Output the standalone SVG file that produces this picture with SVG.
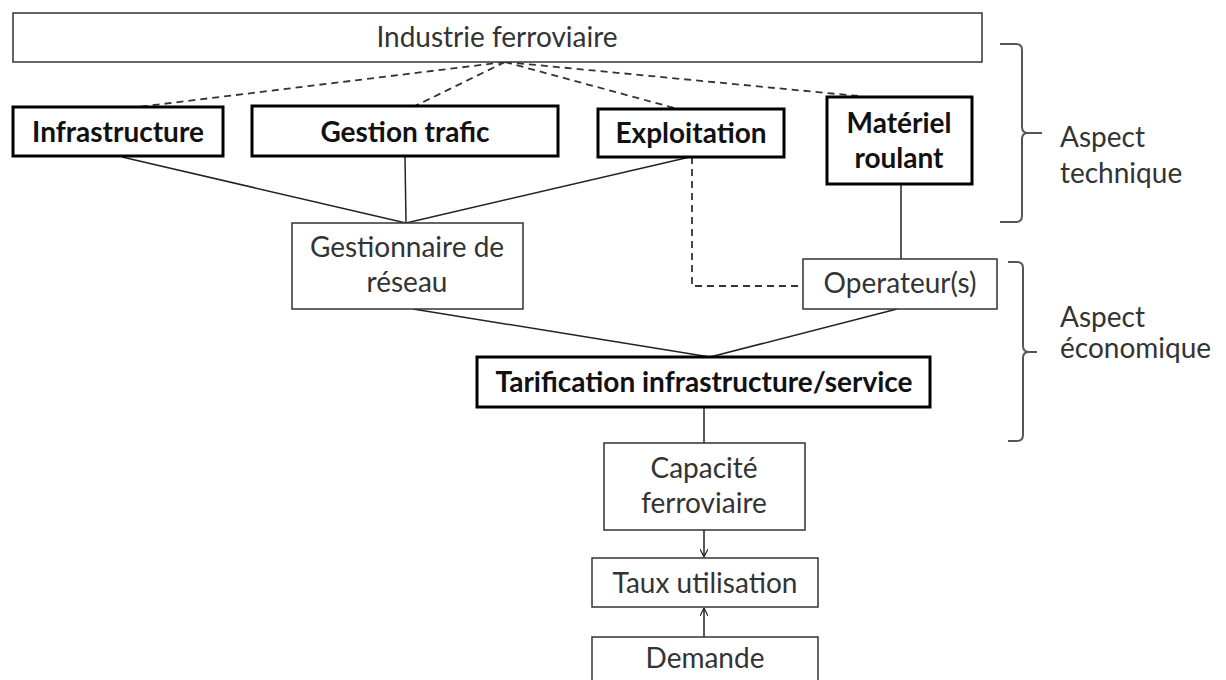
<svg xmlns="http://www.w3.org/2000/svg" width="1226" height="680" viewBox="0 0 1226 680">
<defs>
<style>
.thin{fill:#fff;stroke:#333;stroke-width:1.5}
.thick{fill:#fff;stroke:#000;stroke-width:3}
.t{font-family:Lato,"Open Sans",sans-serif;font-size:28px;fill:#333;text-anchor:middle}
.b{font-family:Lato,"Open Sans",sans-serif;font-size:28px;font-weight:bold;fill:#111;text-anchor:middle}
.lab{font-family:Lato,"Open Sans",sans-serif;font-size:28px;fill:#333}
.ln{fill:none;stroke:#222;stroke-width:1.5}
.dash{fill:none;stroke:#333;stroke-width:1.8;stroke-dasharray:7,5}
.br{fill:none;stroke:#555;stroke-width:2}
</style>
<marker id="arr" viewBox="0 0 10 10" refX="10" refY="5" markerWidth="8" markerHeight="8" orient="auto" markerUnits="userSpaceOnUse">
<path d="M0,0 L10,5 L0,10" fill="none" stroke="#222" stroke-width="1.5"/>
</marker>
</defs>
<rect width="1226" height="680" fill="#fff"/>
<g id="connectors">
<line class="dash" x1="505" y1="62" x2="138" y2="107"/>
<line class="dash" x1="505" y1="62" x2="415" y2="106"/>
<line class="dash" x1="505" y1="62" x2="678" y2="109"/>
<line class="dash" x1="505" y1="62" x2="858" y2="96"/>
<line class="ln" x1="122" y1="157" x2="406" y2="223"/>
<line class="ln" x1="405" y1="156" x2="406" y2="223"/>
<line class="ln" x1="690" y1="157" x2="406" y2="223"/>
<line class="ln" x1="901" y1="184" x2="901" y2="259"/>
<polyline class="dash" points="692,157 692,286 803,286"/>
<line class="ln" x1="413" y1="309" x2="710" y2="357"/>
<line class="ln" x1="897" y1="309" x2="710" y2="357"/>
<line class="ln" x1="704" y1="407" x2="704" y2="443"/>
<line class="ln" x1="704" y1="530" x2="704" y2="557" marker-end="url(#arr)"/>
<line class="ln" x1="704" y1="637" x2="704" y2="608" marker-end="url(#arr)"/>
</g>
<g id="industrie">
<rect class="thin" x="13" y="13" width="969" height="49"/>
<text class="t" x="497" y="47">Industrie ferroviaire</text>
</g>
<g id="infrastructure">
<rect class="thick" x="13" y="107" width="210" height="49"/>
<text class="b" x="118" y="142">Infrastructure</text>
</g>
<g id="gestion-trafic">
<rect class="thick" x="252" y="106" width="306" height="50"/>
<text class="b" x="405" y="142">Gestion trafic</text>
</g>
<g id="exploitation">
<rect class="thick" x="598" y="109" width="186" height="48"/>
<text class="b" x="691" y="143">Exploitation</text>
</g>
<g id="materiel">
<rect class="thick" x="827" y="97" width="145" height="87"/>
<text class="b" x="899" y="133">Matériel</text>
<text class="b" x="899" y="168">roulant</text>
</g>
<g id="gestionnaire">
<rect class="thin" x="292" y="223" width="231" height="86"/>
<text class="t" x="407" y="257">Gestionnaire de</text>
<text class="t" x="407" y="292">réseau</text>
</g>
<g id="operateurs">
<rect class="thin" x="803" y="259" width="194" height="50"/>
<text class="t" x="900" y="293">Operateur(s)</text>
</g>
<g id="tarification">
<rect class="thick" x="477" y="357" width="453" height="50"/>
<text class="b" x="704" y="392">Tarification infrastructure/service</text>
</g>
<g id="capacite">
<rect class="thin" x="604" y="443" width="201" height="87"/>
<text class="t" x="704" y="478">Capacité</text>
<text class="t" x="704" y="513">ferroviaire</text>
</g>
<g id="taux">
<rect class="thin" x="592" y="558" width="226" height="49"/>
<text class="t" x="705" y="593">Taux utilisation</text>
</g>
<g id="demande">
<rect class="thin" x="592" y="637" width="226" height="60"/>
<text class="t" x="705" y="668">Demande</text>
</g>
<g id="aspect-technique">
<path class="br" d="M1000,44 L1016,44 Q1022,44 1022,50 L1022,127 Q1022,133 1028,133 L1042,133 M1028,133 Q1022,133 1022,139 L1022,216 Q1022,222 1016,222 L1000,222"/>
<text class="lab" x="1060" y="147">Aspect</text>
<text class="lab" x="1060" y="183">technique</text>
</g>
<g id="aspect-economique">
<path class="br" d="M1008,262 L1017,262 Q1023,262 1023,268 L1023,346 Q1023,352 1029,352 L1037,352 M1029,352 Q1023,352 1023,358 L1023,435 Q1023,441 1017,441 L1008,441"/>
<text class="lab" x="1060" y="327">Aspect</text>
<text class="lab" x="1060" y="358">économique</text>
</g>
</svg>
